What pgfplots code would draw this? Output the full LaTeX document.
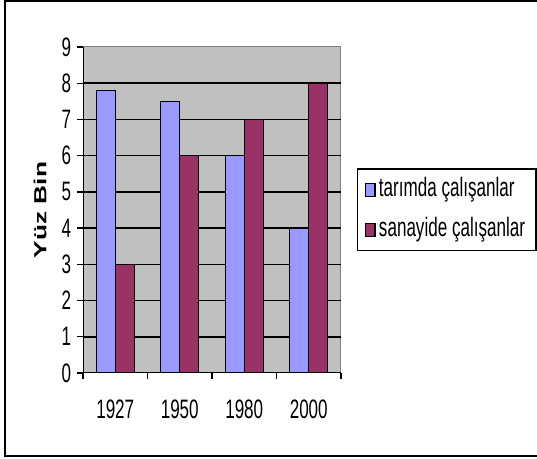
\documentclass[border=0pt]{standalone}
\usepackage{pgfplots}
\pgfplotsset{compat=1.18}
\usepackage{fontspec}
\setmainfont{Liberation Sans}
\newfontfamily\tallfont{Liberation Sans}[FakeStretch=0.64]
\newfontfamily\widefont{Liberation Sans}[FakeStretch=1.5]
\definecolor{plotgray}{HTML}{C0C0C0}
\definecolor{serA}{HTML}{9999FF}
\definecolor{serB}{HTML}{993366}
\pgfplotstableread{
x a b
0 7.8 3
1 7.5 6
2 6 7
3 4 8
}\datatable
\begin{document}
\begin{tikzpicture}
\useasboundingbox (0,0) rectangle (322.2pt,275.4pt);
\draw[line width=1.2pt] (330pt,274.5pt) -- (3pt,274.5pt) -- (3pt,1.8pt) -- (330pt,1.8pt);
\begin{axis}[
  at={(49.8pt,51.6pt)}, anchor=south west,
  scale only axis, width=154.8pt, height=195.6pt,
  ybar=0pt, bar width=11.4pt,
  xmin=-0.5, xmax=3.5, ymin=0, ymax=9,
  xtick={0,1,2,3}, xticklabels={1927,1950,1980,2000},
  minor xtick={-0.5,0.5,1.5,2.5,3.5},
  ytick={0,...,9},
  tick align=outside, major tick length=3.6pt, minor tick length=3.6pt,
  major x tick style={draw=none},
  minor x tick style={black, line width=0.8pt},
  major y tick style={black, line width=0.8pt},
  xtick pos=bottom, ytick pos=left,
  extra y ticks={1,...,8}, extra y tick labels={},
  extra y tick style={grid=major, major tick style={draw=none}},
  major grid style={black, line width=0.9pt},
  axis line style={draw=gray, line width=0.6pt},
  axis background/.style={fill=plotgray},
  /pgf/number format/assume math mode=true,
  ticklabel style={font=\tallfont\fontsize{16}{18}\selectfont, text=black},
  xticklabel style={anchor=center, yshift=-18pt},
  legend style={at={(1.062,0.628)}, anchor=north west, draw=black, line width=0.8pt,
    font=\tallfont\fontsize{16}{18}\selectfont, row sep=8pt, inner ysep=4.5pt, inner xsep=4.5pt,
    nodes={inner ysep=1pt, text height=11pt, text depth=3pt},
    /tikz/every even column/.append style={column sep=1pt}},
  legend cell align=left,
  legend image code/.code={\draw[#1, line width=0.8pt] (0pt,-4.2pt) rectangle (5.5pt,3.6pt);},
]
\addplot[fill=serA, draw=black, line width=0.8pt] table[x=x, y=a] {\datatable};
\addplot[fill=serB, draw=black, line width=0.8pt] table[x=x, y=b] {\datatable};
\draw[black, line width=0.9pt] (rel axis cs:0,1) -- (rel axis cs:0,0) -- (rel axis cs:1,0);
\legend{tarımda çalışanlar, sanayide çalışanlar}
\end{axis}
\node[rotate=90, font=\widefont\fontsize{10.5}{12}\selectfont\bfseries] at (24pt,149.4pt) {Yüz Bin};
\end{tikzpicture}
\end{document}
